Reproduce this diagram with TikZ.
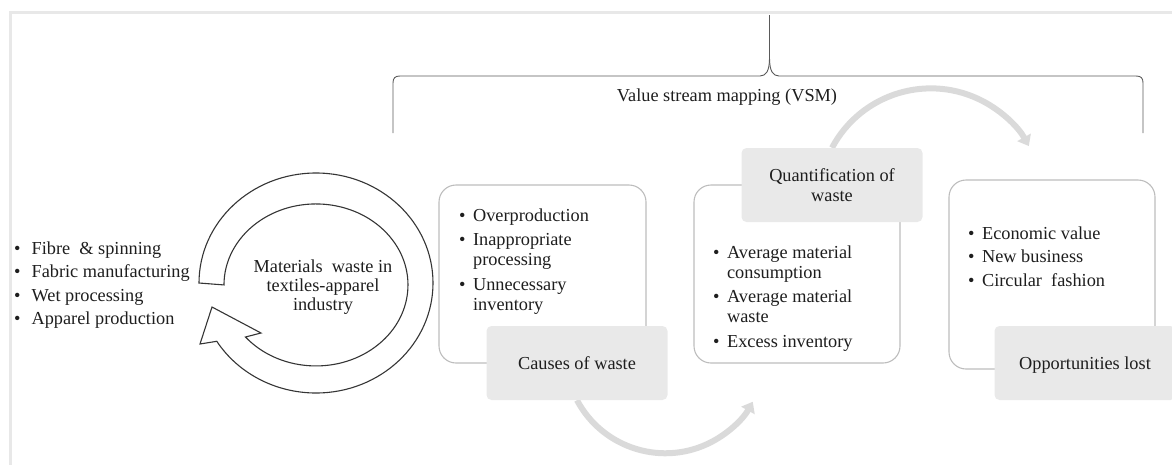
\documentclass[tikz,border=0pt]{standalone}
\usepackage{fontspec}
\setmainfont{Liberation Serif}
\usetikzlibrary{arrows.meta,backgrounds}
\definecolor{ink}{HTML}{1E1E1E}
\definecolor{boxline}{HTML}{BDBDBD}
\definecolor{labelfill}{HTML}{E9E9E9}
\definecolor{flow}{HTML}{DADADA}
\definecolor{framec}{HTML}{E8E8E8}
\definecolor{bracec}{HTML}{5A5A5A}
\newcommand{\bul}{\textbullet}
\tikzset{
  txt/.style={font=\fontsize{18.3}{20}\selectfont, text=ink, inner sep=0pt},
  bulletlist/.style={txt, anchor=north west},
  panel/.style={draw=boxline, line width=1.1pt, fill=white, rounded corners=17pt, inner sep=0pt},
  tag/.style={fill=labelfill, rounded corners=5pt, inner sep=0pt, minimum width=181pt, minimum height=74pt,
              font=\fontsize{18.3}{20}\selectfont, text=ink, align=center},
  flowarrow/.style={draw=flow, line width=6pt, -{Triangle[length=10pt,width=15pt]}},
  cyclearrow/.style={draw=ink!90, line width=1.1pt, fill=white, line join=miter},
}
\begin{document}
\begin{tikzpicture}[x=1pt, y=-1pt]
\useasboundingbox (0,0) rectangle (1172,464);
% page frame
\draw[framec, line width=3pt] (10,466) -- (10,12) -- (1174,12);

% brace over the value stream mapping stages
\draw[bracec, line width=0.9pt] (393,133) -- (393,83) .. controls (393,78) and (395,76) .. (400,76)
  -- (760,76) .. controls (766,76) and (769.5,71) .. (769.5,58) -- (769.5,15);
\draw[bracec, line width=0.9pt] (1143,133) -- (1143,83) .. controls (1143,78) and (1141,76) .. (1136,76)
  -- (779,76) .. controls (773,76) and (769.5,71) .. (769.5,58);
\node[txt, anchor=base] (vsm) at (727,101) {Value stream mapping (VSM)};

% production stages
\node[bulletlist] (stages) at (14,240) {\begin{tabular}[t]{@{}l@{\hspace{11pt}}l@{}}
\bul & Fibre \ \& spinning\\[3.5pt]
\bul & Fabric manufacturing\\[3.5pt]
\bul & Wet processing\\[3.5pt]
\bul & Apparel production
\end{tabular}};

% circular arrow
\path[cyclearrow] (199,283) arc[start angle=180, end angle=508, x radius=117, y radius=110]
  -- (200,344) -- (212,307) -- (261,333) -- (245.5,337)
  arc[start angle=500, end angle=180, x radius=92, y radius=81] -- cycle;
\node[txt, align=center, font=\fontsize{18.3}{19}\selectfont] (cycle) at (323,287)
  {Materials \ waste in\\textiles-apparel\\industry};

% stage panels
\node[panel, minimum width=207pt, minimum height=178pt] (p1) at (542.5,274) {};
\node[panel, minimum width=206pt, minimum height=178pt] (p2) at (797,274) {};
\node[panel, minimum width=206pt, minimum height=189pt] (p3) at (1052,274.5) {};

\node[bulletlist] (causeslist) at (459,207) {\begin{tabular}[t]{@{}l@{\hspace{7.5pt}}l@{}}
\bul & Overproduction\\[4.5pt]
\bul & Inappropriate\\
     & processing\\[4.5pt]
\bul & Unnecessary\\
     & inventory
\end{tabular}};
\node[bulletlist] (quantlist) at (713,244) {\begin{tabular}[t]{@{}l@{\hspace{7.5pt}}l@{}}
\bul & Average material\\
     & consumption\\[4.5pt]
\bul & Average material\\
     & waste\\[4.5pt]
\bul & Excess inventory
\end{tabular}};
\node[bulletlist] (opplist) at (968,225) {\begin{tabular}[t]{@{}l@{\hspace{7.5pt}}l@{}}
\bul & Economic value\\[3.5pt]
\bul & New business\\[3.5pt]
\bul & Circular \ fashion
\end{tabular}};

% stage labels
\node[tag, text height=12pt, text depth=0pt] (causes) at (577,363) {Causes of waste};
\node[tag] (quant) at (832,185) {Quantification of\\waste};
\node[tag, text height=12pt, text depth=0pt] (opp) at (1085,363) {Opportunities lost};

% flow between stages
\begin{scope}[on background layer]
\draw[flowarrow] (causes.south) arc[start angle=152, end angle=29, radius=100];
\draw[flowarrow] (quant.north) arc[start angle=208, end angle=331, radius=112];
\end{scope}
\end{tikzpicture}
\end{document}
